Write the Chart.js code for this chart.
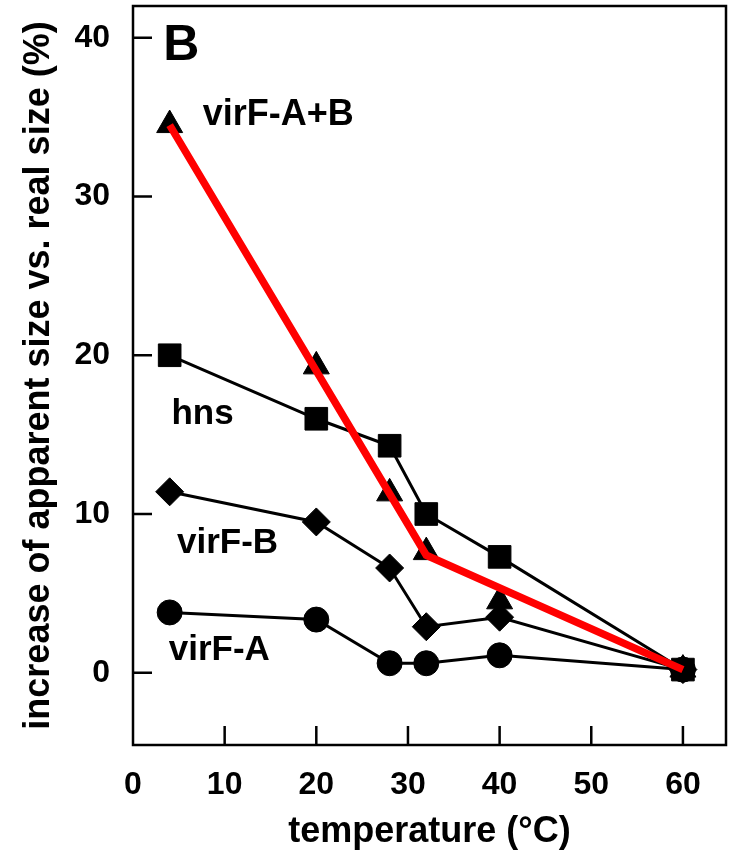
<!DOCTYPE html>
<html><head><meta charset="utf-8">
<script src="https://cdn.jsdelivr.net/npm/chart.js@4/dist/chart.umd.min.js"></script>
<style>html,body{margin:0;padding:0;background:#fff}canvas{display:block}</style>
</head><body>
<canvas id="c" width="729" height="866"></canvas>
<script>
// Temperatures (°C) at which each construct was measured
const temperatures = [4, 20, 28, 32, 40, 60];
// Increase of apparent size vs. real size (%)
const virFAB = [34.5, 19.3, 11.3, 7.6, 4.5, 0.2];
const hns    = [20.0, 16.0, 14.3, 10.0, 7.3, 0.2];
const virFB  = [11.4, 9.5, 6.6, 2.9, 3.5, 0.2];
const virFA  = [3.8, 3.35, 0.6, 0.6, 1.1, 0.2];
// Red guide line through the virF-A+B points
const trendX = [4, 32, 60];
const trendY = [34.5, 7.4, 0.2];
// Axis tick values
const xTicks = [0, 10, 20, 30, 40, 50, 60];
const yTicks = [0, 10, 20, 30, 40];
// Series names
const seriesNames = ['virF-A+B', 'hns', 'virF-B', 'virF-A'];

const FONT = '"Liberation Sans", Arial, Helvetica, sans-serif';

const pts = (xs, ys) => xs.map((x, i) => ({x, y: ys[i]}));

// Series name labels, anchored in data units (left edge, baseline)
const seriesLabels = [
  {text: seriesNames[0], x: 7.6, y: 34.5, size: 36},
  {text: seriesNames[1], x: 4.2, y: 15.7, size: 35},
  {text: seriesNames[2], x: 4.8, y: 7.56, size: 35},
  {text: seriesNames[3], x: 3.9, y: 0.82, size: 35},
  {text: 'B', x: 3.3, y: 38.6, size: 50}
];

const framePlugin = {
  id: 'frame',
  beforeDatasetsDraw(chart) {
    const {ctx, chartArea: a, scales: {x, y}} = chart;
    ctx.save();
    ctx.strokeStyle = '#000';
    ctx.lineWidth = 2.5;
    ctx.strokeRect(a.left, a.top, a.right - a.left, a.bottom - a.top);
    const len = 19;
    ctx.beginPath();
    xTicks.forEach(v => {
      if (v === 0) return;
      const px = x.getPixelForValue(v);
      ctx.moveTo(px, a.bottom);
      ctx.lineTo(px, a.bottom - len);
    });
    yTicks.forEach(v => {
      const py = y.getPixelForValue(v);
      ctx.moveTo(a.left, py);
      ctx.lineTo(a.left + len, py);
    });
    ctx.stroke();
    ctx.restore();
  },
  afterDatasetsDraw(chart) {
    const {ctx, scales: {x, y}} = chart;
    ctx.save();
    ctx.fillStyle = '#000';
    ctx.textBaseline = 'alphabetic';
    ctx.textAlign = 'left';
    seriesLabels.forEach(l => {
      ctx.font = 'bold ' + l.size + 'px ' + FONT;
      ctx.fillText(l.text, x.getPixelForValue(l.x), y.getPixelForValue(l.y));
    });
    ctx.restore();
  }
};

const markerCommon = {
  borderColor: '#000',
  backgroundColor: '#000',
  pointBackgroundColor: '#000',
  pointBorderColor: '#000',
  pointBorderWidth: 1,
  borderWidth: 3,
  tension: 0
};

new Chart(document.getElementById('c'), {
  type: 'line',
  data: {
    datasets: [
      {label: 'fit', data: pts(trendX, trendY), borderColor: '#ff0000', borderWidth: 7.5,
       pointRadius: 0, pointHoverRadius: 0, order: 0, borderJoinStyle: 'miter', borderCapStyle: 'butt'},
      {...markerCommon, label: seriesNames[0], data: pts(temperatures, virFAB), showLine: false,
       pointStyle: 'triangle', pointRadius: 15, order: 1},
      {...markerCommon, label: seriesNames[1], data: pts(temperatures, hns),
       pointStyle: 'rect', pointRadius: 16, order: 2},
      {...markerCommon, label: seriesNames[2], data: pts(temperatures, virFB),
       pointStyle: 'rectRot', pointRadius: 14, order: 3},
      {...markerCommon, label: seriesNames[3], data: pts(temperatures, virFA),
       pointStyle: 'circle', pointRadius: 12.5, order: 4}
    ]
  },
  options: {
    responsive: false,
    animation: false,
    events: [],
    layout: {autoPadding: false, padding: {top: 6, right: 3, left: 0, bottom: 0}},
    plugins: {legend: {display: false}, tooltip: {enabled: false}},
    scales: {
      x: {
        type: 'linear', min: 0, max: 64.7,
        afterBuildTicks: s => { s.ticks = xTicks.map(v => ({value: v})); },
        afterFit: s => { s.height = 121; s.paddingLeft = 0; s.paddingRight = 0; },
        grid: {display: false, drawTicks: false},
        border: {display: false},
        ticks: {color: '#000', padding: 21, font: {family: FONT, size: 32, weight: 'bold'}},
        title: {display: true, text: 'temperature (°C)', color: '#000',
                padding: {top: 0, bottom: 12}, font: {family: FONT, size: 36, weight: 'bold'}}
      },
      y: {
        type: 'linear', min: -4.55, max: 42,
        afterBuildTicks: s => { s.ticks = yTicks.map(v => ({value: v})); },
        afterFit: s => { s.width = 133; s.paddingTop = 0; s.paddingBottom = 0; },
        grid: {display: false, drawTicks: false},
        border: {display: false},
        ticks: {color: '#000', padding: 23, font: {family: FONT, size: 32, weight: 'bold'}},
        title: {display: true, text: 'increase of apparent size vs. real size (%)', color: '#000',
                padding: {top: 17, bottom: 0}, font: {family: FONT, size: 36, weight: 'bold'}}
      }
    }
  },
  plugins: [framePlugin]
});
</script>
</body></html>
